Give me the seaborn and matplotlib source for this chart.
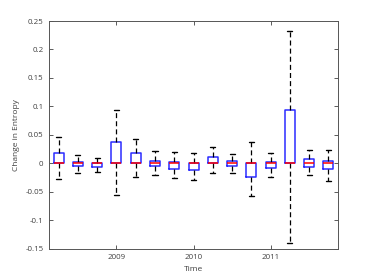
import numpy as np
import pandas as pd
import matplotlib
matplotlib.use('Agg')
import matplotlib.pyplot as plt
import seaborn as sns

# quarterly positions (years)
quarters = [2008.25, 2008.5, 2008.75, 2009.0, 2009.25, 2009.5, 2009.75, 2010.0,
            2010.25, 2010.5, 2010.75, 2011.0, 2011.25, 2011.5, 2011.75]

# five-number summaries
whis_lo = [-0.027, -0.016, -0.015, -0.056, -0.024, -0.021, -0.026, -0.029,
           -0.016, -0.016, -0.057, -0.024, -0.139, -0.021, -0.031]
q1 = [0.0, -0.005, -0.006, 0.0, 0.0, -0.005, -0.009, -0.012,
      0.0, -0.004, -0.023, -0.008, 0.0, -0.006, -0.010]
med = [0.0, 0.0, 0.0, 0.0, 0.0, 0.0, 0.0, 0.0,
       0.0, 0.0, 0.0, 0.0, 0.0, 0.0, 0.0]
q3 = [0.019, 0.002, 0.0, 0.037, 0.018, 0.005, 0.003, 0.0,
      0.011, 0.005, 0.0, 0.003, 0.094, 0.007, 0.004]
whis_hi = [0.046, 0.014, 0.009, 0.094, 0.043, 0.021, 0.020, 0.018,
           0.028, 0.017, 0.037, 0.019, 0.232, 0.024, 0.024]

yticks = [-0.15, -0.1, -0.05, 0, 0.05, 0.1, 0.15, 0.2, 0.25]
xticks = [2009, 2010, 2011]

# build long table: 5 points per quarter reproduce the summary exactly
rows = []
for i, t in enumerate(quarters):
    for v in (whis_lo[i], q1[i], med[i], q3[i], whis_hi[i]):
        rows.append({'time': t, 'delta': v})
df = pd.DataFrame(rows)

sns.set_style('white')
plt.rcParams['font.family'] = ['Open Sans', 'DejaVu Sans']
grey = '#404040'

fig = plt.figure(figsize=(3.74, 2.8), dpi=100)
ax = fig.add_axes([0.131, 0.111, 0.773, 0.814])

sns.boxplot(data=df, x='time', y='delta', native_scale=True, fill=False,
            color='blue', width=0.52, whis=(0, 100), linewidth=1,
            boxprops=dict(color='#2b2bff', linewidth=1.1),
            medianprops=dict(color='red', linewidth=1.1),
            whiskerprops=dict(color='black', linestyle=(0, (4, 2.5)), linewidth=0.9),
            capprops=dict(color='black', linewidth=1),
            showfliers=False, ax=ax)

ax.set_xlim(2008.125, 2011.875)
ax.set_ylim(-0.15, 0.25)
ax.set_xticks(xticks)
ax.set_xticklabels([str(x) for x in xticks])
ax.set_yticks(yticks)
ax.set_yticklabels(['%g' % y for y in yticks])
ax.tick_params(direction='in', length=3, width=0.6, color=grey,
               labelsize=5.7, labelcolor=grey, top=True, right=True,
               left=True, bottom=True, pad=4)
for s in ax.spines.values():
    s.set_color('#555555')
    s.set_linewidth(0.7)
    s.set_visible(True)

ax.set_xlabel('Time', fontsize=6, color=grey, labelpad=3)
ax.set_ylabel('Change in Entropy', fontsize=6, color=grey, labelpad=4)

fig.savefig('out.png', dpi=100)
